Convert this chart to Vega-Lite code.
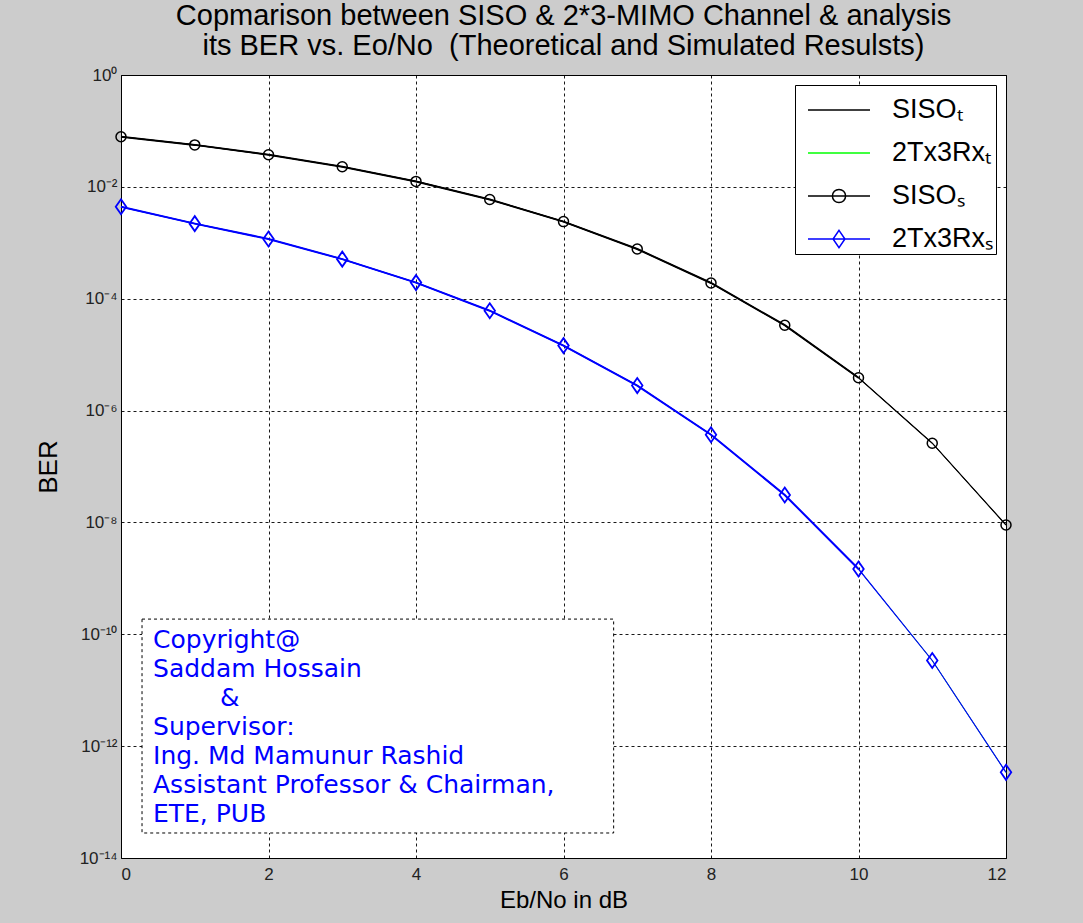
{
  "$schema": "https://vega.github.io/schema/vega-lite/v6.json",
  "width": 885,
  "height": 783,
  "autosize": {"type": "none"},
  "padding": {"left": 121, "top": 75, "right": 77, "bottom": 65},
  "background": "#cccccc",
  "title": {
    "text": ["Copmarison between SISO & 2*3-MIMO Channel & analysis", "its BER vs. Eo/No\u00a0 (Theoretical and Simulated Resulsts)"],
    "font": "Liberation Sans",
    "fontSize": 29,
    "fontWeight": "normal",
    "lineHeight": 30,
    "color": "black",
    "anchor": "middle",
    "frame": "group",
    "offset": 5
  },
  "datasets": {
    "ber": [
      {"snr": 0, "ber": 0.0786, "series": "SISO_T"},
      {"snr": 1, "ber": 0.0563, "series": "SISO_T"},
      {"snr": 2, "ber": 0.0375, "series": "SISO_T"},
      {"snr": 3, "ber": 0.0229, "series": "SISO_T"},
      {"snr": 4, "ber": 0.0125, "series": "SISO_T"},
      {"snr": 5, "ber": 0.00595, "series": "SISO_T"},
      {"snr": 6, "ber": 0.00239, "series": "SISO_T"},
      {"snr": 7, "ber": 0.000773, "series": "SISO_T"},
      {"snr": 8, "ber": 0.000191, "series": "SISO_T"},
      {"snr": 9, "ber": 3.36e-5, "series": "SISO_T"},
      {"snr": 10, "ber": 3.87e-6, "series": "SISO_T"},
      {"snr": 11, "ber": 2.61e-7, "series": "SISO_T"},
      {"snr": 12, "ber": 9.0e-9, "series": "SISO_T"},
      {"snr": 0, "ber": 0.0044, "series": "2Tx3Rx_T"},
      {"snr": 1, "ber": 0.0022, "series": "2Tx3Rx_T"},
      {"snr": 2, "ber": 0.00117, "series": "2Tx3Rx_T"},
      {"snr": 3, "ber": 0.00051, "series": "2Tx3Rx_T"},
      {"snr": 4, "ber": 0.000194, "series": "2Tx3Rx_T"},
      {"snr": 5, "ber": 6.1e-5, "series": "2Tx3Rx_T"},
      {"snr": 6, "ber": 1.45e-5, "series": "2Tx3Rx_T"},
      {"snr": 7, "ber": 2.8e-6, "series": "2Tx3Rx_T"},
      {"snr": 8, "ber": 3.7e-7, "series": "2Tx3Rx_T"},
      {"snr": 9, "ber": 3.1e-8, "series": "2Tx3Rx_T"},
      {"snr": 10, "ber": 1.47e-9, "series": "2Tx3Rx_T"},
      {"snr": 11, "ber": 3.4e-11, "series": "2Tx3Rx_T"},
      {"snr": 12, "ber": 3.4e-13, "series": "2Tx3Rx_T"},
      {"snr": 0, "ber": 0.0786, "series": "SISO_S"},
      {"snr": 1, "ber": 0.0563, "series": "SISO_S"},
      {"snr": 2, "ber": 0.0375, "series": "SISO_S"},
      {"snr": 3, "ber": 0.0229, "series": "SISO_S"},
      {"snr": 4, "ber": 0.0125, "series": "SISO_S"},
      {"snr": 5, "ber": 0.00595, "series": "SISO_S"},
      {"snr": 6, "ber": 0.00239, "series": "SISO_S"},
      {"snr": 7, "ber": 0.000773, "series": "SISO_S"},
      {"snr": 8, "ber": 0.000191, "series": "SISO_S"},
      {"snr": 9, "ber": 3.36e-5, "series": "SISO_S"},
      {"snr": 10, "ber": 3.87e-6, "series": "SISO_S"},
      {"snr": 11, "ber": 2.61e-7, "series": "SISO_S"},
      {"snr": 12, "ber": 9.0e-9, "series": "SISO_S"},
      {"snr": 0, "ber": 0.0044, "series": "2Tx3Rx_S"},
      {"snr": 1, "ber": 0.0022, "series": "2Tx3Rx_S"},
      {"snr": 2, "ber": 0.00117, "series": "2Tx3Rx_S"},
      {"snr": 3, "ber": 0.00051, "series": "2Tx3Rx_S"},
      {"snr": 4, "ber": 0.000194, "series": "2Tx3Rx_S"},
      {"snr": 5, "ber": 6.1e-5, "series": "2Tx3Rx_S"},
      {"snr": 6, "ber": 1.45e-5, "series": "2Tx3Rx_S"},
      {"snr": 7, "ber": 2.8e-6, "series": "2Tx3Rx_S"},
      {"snr": 8, "ber": 3.7e-7, "series": "2Tx3Rx_S"},
      {"snr": 9, "ber": 3.1e-8, "series": "2Tx3Rx_S"},
      {"snr": 10, "ber": 1.47e-9, "series": "2Tx3Rx_S"},
      {"snr": 11, "ber": 3.4e-11, "series": "2Tx3Rx_S"},
      {"snr": 12, "ber": 3.4e-13, "series": "2Tx3Rx_S"}
    ]
  },
  "layer": [
    {
      "data": {"name": "ber"},
      "encoding": {
        "x": {
          "field": "snr",
          "type": "quantitative",
          "title": "Eb/No in dB",
          "scale": {"domain": [0, 12], "nice": false},
          "axis": {"values": [0, 2, 4, 6, 8, 10, 12], "format": "d"}
        },
        "y": {
          "field": "ber",
          "type": "quantitative",
          "title": "BER",
          "scale": {"type": "log", "domain": [1e-14, 1], "nice": false},
          "axis": {
            "values": [1, 1e-2, 1e-4, 1e-6, 1e-8, 1e-10, 1e-12, 1e-14],
            "labelExpr": "['10⁰','10⁻²','10⁻⁴','10⁻⁶','10⁻⁸','10⁻¹⁰','10⁻¹²','10⁻¹⁴'][round(-log(datum.value)/LN10/2)]",
            "titlePadding": 18
          }
        },
        "color": {
          "field": "series",
          "type": "nominal",
          "scale": {"domain": ["SISO_S", "2Tx3Rx_S", "SISO_T", "2Tx3Rx_T"], "range": ["#000000", "#0000ff", "#000000", "#00ff00"]},
          "legend": null
        }
      },
      "layer": [
        {
          "transform": [{"filter": "indexof(datum.series, '_T') >= 0"}],
          "mark": {"type": "line", "strokeWidth": 1}
        },
        {
          "transform": [{"filter": "indexof(datum.series, '_S') >= 0"}],
          "mark": {"type": "line", "strokeWidth": 1.2}
        },
        {
          "transform": [{"filter": "indexof(datum.series, '_S') >= 0 && datum.snr <= 10"}],
          "mark": {"type": "line", "strokeWidth": 2}
        },
        {
          "transform": [{"filter": "datum.series == 'SISO_S'"}],
          "mark": {"type": "point", "shape": "circle", "size": 100, "filled": false, "strokeWidth": 1.5, "opacity": 1}
        },
        {
          "transform": [{"filter": "datum.series == '2Tx3Rx_S'"}],
          "mark": {"type": "point", "shape": "M0,-1L0.7,0L0,1L-0.7,0Z", "size": 225, "filled": false, "strokeWidth": 1.8, "opacity": 1}
        }
      ]
    },
    {
      "data": {"values": [{"a": 1}]},
      "mark": {"type": "rect", "fill": "white", "stroke": "black", "strokeWidth": 1, "strokeDash": [3, 3]},
      "encoding": {
        "x": {"datum": 0.285, "type": "quantitative", "title": "Eb/No in dB"},
        "x2": {"datum": 6.68},
        "y": {"datum": 1.87e-10, "type": "quantitative", "title": "BER"},
        "y2": {"datum": 2.8e-14}
      }
    },
    {
      "data": {"values": [{"a": 1}]},
      "mark": {
        "type": "text",
        "align": "left",
        "baseline": "top",
        "font": "DejaVu Sans",
        "fontSize": 25,
        "lineHeight": 29,
        "color": "#0000ff",
        "text": ["Copyright@", "Saddam Hossain"]
      },
      "encoding": {
        "x": {"datum": 0.434, "type": "quantitative", "title": "Eb/No in dB"},
        "y": {"datum": 1.3e-10, "type": "quantitative", "title": "BER"}
      }
    },
    {
      "data": {"values": [{"a": 1}]},
      "mark": {
        "type": "text",
        "align": "left",
        "baseline": "top",
        "font": "DejaVu Sans",
        "fontSize": 25,
        "color": "#0000ff",
        "text": "&"
      },
      "encoding": {
        "x": {"datum": 1.342, "type": "quantitative", "title": "Eb/No in dB"},
        "y": {"datum": 1.19e-11, "type": "quantitative", "title": "BER"}
      }
    },
    {
      "data": {"values": [{"a": 1}]},
      "mark": {
        "type": "text",
        "align": "left",
        "baseline": "top",
        "font": "DejaVu Sans",
        "fontSize": 25,
        "lineHeight": 29,
        "color": "#0000ff",
        "text": ["Supervisor:", "Ing. Md Mamunur Rashid", "Assistant Professor & Chairman,", "ETE, PUB"]
      },
      "encoding": {
        "x": {"datum": 0.434, "type": "quantitative", "title": "Eb/No in dB"},
        "y": {"datum": 3.61e-12, "type": "quantitative", "title": "BER"}
      }
    },
    {
      "data": {"name": "ber"},
      "mark": {"type": "point", "filled": false, "opacity": 0},
      "encoding": {
        "x": {"field": "snr", "type": "quantitative", "title": "Eb/No in dB"},
        "y": {"field": "ber", "type": "quantitative", "title": "BER"},
        "stroke": {
          "field": "series",
          "type": "nominal",
          "scale": {"domain": ["SISO_T", "2Tx3Rx_T", "SISO_S", "2Tx3Rx_S"], "range": ["#000000", "#00ff00", "#000000", "#0000ff"]},
          "legend": {
            "title": null,
            "orient": "top-right",
            "labelExpr": "replace(replace(datum.label, '_T', 'ₜ'), '_S', 'ₛ') + '\u00a0\u00a0'"
          }
        },
        "shape": {
          "field": "series",
          "type": "nominal",
          "scale": {
            "domain": ["SISO_T", "2Tx3Rx_T", "SISO_S", "2Tx3Rx_S"],
            "range": [
              "M-1.41,0H1.41",
              "M-1.41,0H1.41",
              "M-1.41,0H1.41M-0.3,0A0.3,0.3,0,1,0,0.3,0A0.3,0.3,0,1,0,-0.3,0",
              "M-1.41,0H1.41M0,-0.39L0.27,0L0,0.39L-0.27,0Z"
            ]
          },
          "legend": {
            "title": null,
            "orient": "top-right",
            "labelExpr": "replace(replace(datum.label, '_T', 'ₜ'), '_S', 'ₛ') + '\u00a0\u00a0'"
          }
        }
      }
    }
  ],
  "config": {
    "view": {"stroke": "black", "strokeWidth": 1, "fill": "white"},
    "axis": {
      "domain": false,
      "ticks": false,
      "grid": true,
      "gridColor": "#000000",
      "gridDash": [3, 3],
      "gridWidth": 1,
      "gridOpacity": 0.9,
      "labelFont": "Liberation Sans",
      "labelFontSize": 17,
      "labelColor": "#222222",
      "titleFont": "Liberation Sans",
      "titleFontWeight": "normal",
      "titleColor": "#000000"
    },
    "axisY": {"labelPadding": 4, "titleFontSize": 26},
    "axisX": {"labelPadding": 8, "titleFontSize": 24, "titlePadding": 6},
    "legend": {
      "orient": "top-right",
      "offset": 10,
      "padding": 2,
      "strokeColor": "#000000",
      "fillColor": "#ffffff",
      "labelFont": "Liberation Sans",
      "labelFontSize": 27,
      "labelColor": "#000000",
      "labelLimit": 400,
      "symbolSize": 1936,
      "symbolStrokeWidth": 1.5,
      "symbolOpacity": 1,
      "symbolOffset": 19,
      "labelOffset": 30,
      "rowPadding": 7
    }
  }
}
